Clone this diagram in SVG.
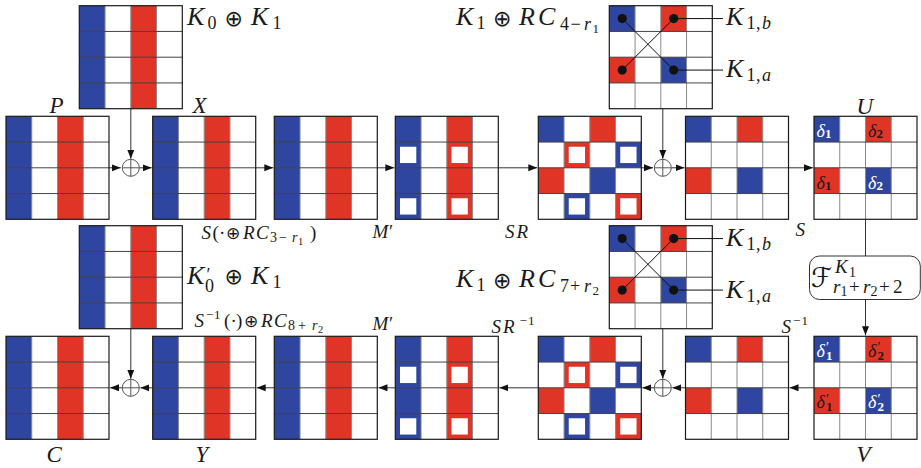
<svg xmlns="http://www.w3.org/2000/svg" xmlns:xlink="http://www.w3.org/1999/xlink" width="921" height="468" viewBox="0 0 921 468">
<style>
.b{fill:#2f46a0}
.rd{fill:#e03426}
.w{fill:#fff}
.gv{stroke:#8a8a8a;stroke-width:1;fill:none}
.gh{stroke:#444;stroke-width:1;fill:none}
.go{stroke:#1a1a1a;stroke-width:1.2;fill:none}
.ca{stroke:#333;stroke-width:1;fill:none;marker-end:url(#ah)}
.c{stroke:#333;stroke-width:1;fill:none}
.k{stroke:#111;stroke-width:1;fill:none}
.dot{fill:#111}
.ox{fill:#fff;stroke:#555;stroke-width:1}
.t{font-family:"Liberation Serif","DejaVu Serif",serif;font-style:italic;fill:#1a1a1a}
.n{font-style:normal}
.op{font-family:"DejaVu Sans",sans-serif;font-style:normal}
.bd{font-style:normal;font-weight:bold}
.dw{fill:#fff}
</style>
<defs>
<marker id="ah" markerUnits="userSpaceOnUse" markerWidth="10" markerHeight="8" refX="9" refY="3.5" orient="auto"><path d="M0,0L9,3.5L0,7z" fill="#111"/></marker>
<g id="grid"><path class="gv" d="M25.75 0V103M51.5 0V103M77.25 0V103"/><path class="gh" d="M0 25.75H103M0 51.5H103M0 77.25H103"/><rect class="go" width="103" height="103"/></g>
<g id="cols"><rect class="b" width="25.75" height="103"/><rect class="rd" x="51.5" width="25.75" height="103"/></g>
<g id="fcells"><rect class="b" width="25.75" height="25.75"/><rect class="rd" x="51.5" width="25.75" height="25.75"/><rect class="rd" y="51.5" width="25.75" height="25.75"/><rect class="b" x="51.5" y="51.5" width="25.75" height="25.75"/></g>
<g id="colm"><use xlink:href="#cols"/><use xlink:href="#grid"/></g>
<g id="mprime"><use xlink:href="#cols"/><rect class="w" x="4.7" y="30.45" width="16.3" height="16.3"/><rect class="w" x="56.2" y="30.45" width="16.3" height="16.3"/><rect class="w" x="4.7" y="81.95" width="16.3" height="16.3"/><rect class="w" x="56.2" y="81.95" width="16.3" height="16.3"/><use xlink:href="#grid"/></g>
<g id="srm"><rect class="b" width="25.75" height="25.75"/><rect class="rd" x="51.5" width="25.75" height="25.75"/><rect class="rd" x="25.75" y="25.75" width="25.75" height="25.75"/><rect class="b" x="77.25" y="25.75" width="25.75" height="25.75"/><rect class="rd" y="51.5" width="25.75" height="25.75"/><rect class="b" x="51.5" y="51.5" width="25.75" height="25.75"/><rect class="b" x="25.75" y="77.25" width="25.75" height="25.75"/><rect class="rd" x="77.25" y="77.25" width="25.75" height="25.75"/><rect class="w" x="30.45" y="30.45" width="16.3" height="16.3"/><rect class="w" x="81.95" y="30.45" width="16.3" height="16.3"/><rect class="w" x="30.45" y="81.95" width="16.3" height="16.3"/><rect class="w" x="81.95" y="81.95" width="16.3" height="16.3"/><use xlink:href="#grid"/></g>
<g id="fm"><use xlink:href="#fcells"/><use xlink:href="#grid"/></g>
<g id="keym"><use xlink:href="#fcells"/><use xlink:href="#grid"/><path class="k" d="M12.875 12.875L64.375 64.375M64.375 12.875L12.875 64.375M64.375 12.875H113.7M64.375 64.375H113.7"/><circle class="dot" cx="12.875" cy="12.875" r="4.6"/><circle class="dot" cx="64.375" cy="12.875" r="4.6"/><circle class="dot" cx="12.875" cy="64.375" r="4.6"/><circle class="dot" cx="64.375" cy="64.375" r="4.6"/></g>
<g id="oplus"><circle class="ox" r="8.5"/><path class="ox" d="M-8.5 0H8.5M0 -8.5V8.5"/></g>
</defs>
<rect width="921" height="468" fill="#fff"/>

<g id="connectors">
<path class="ca" d="M109 167.8H120.8"/>
<path class="ca" d="M139.3 167.8H151.7"/>
<path class="ca" d="M255.7 167.8H273.3"/>
<path class="ca" d="M377.3 167.8H394.3"/>
<path class="ca" d="M498.3 167.8H537.3"/>
<path class="ca" d="M641.3 167.8H653"/>
<path class="ca" d="M671.3 167.8H684.5"/>
<path class="ca" d="M788.5 167.8H813"/>
<path class="ca" d="M130.8 108.7V158.8"/>
<path class="ca" d="M662.8 108.7V158.8"/>
<path class="c" d="M865.5 219.3V256"/>
<path class="ca" d="M865.5 299.5V335.3"/>
<path class="ca" d="M814 387.8H789.5"/>
<path class="ca" d="M685.5 387.8H672.3"/>
<path class="ca" d="M654.3 387.8H642.3"/>
<path class="ca" d="M538.3 387.8H499.3"/>
<path class="ca" d="M395.3 387.8H378.5"/>
<path class="ca" d="M274.3 387.8H256.7"/>
<path class="ca" d="M152.7 387.8H140.3"/>
<path class="ca" d="M122.3 387.8H110"/>
<path class="ca" d="M130.8 328.7V378.8"/>
<path class="ca" d="M662.8 328.7V378.8"/>
</g>

<g id="P"><use xlink:href="#colm" x="6" y="116.3"/></g>
<g id="X"><use xlink:href="#colm" x="152.7" y="116.3"/></g>
<g id="S-out"><use xlink:href="#colm" x="274.3" y="116.3"/></g>
<g id="Mprime-top"><use xlink:href="#mprime" x="395.3" y="116.3"/></g>
<g id="SR-top"><use xlink:href="#srm" x="538.3" y="116.3"/></g>
<g id="AK-top"><use xlink:href="#fm" x="685.5" y="116.3"/></g>
<g id="U">
<use xlink:href="#fm" x="814" y="116.3"/>
<text class="t dw" font-size="18" x="816.5" y="137.3">δ<tspan class="bd" font-size="13" dy="1">1</tspan></text>
<text class="t" font-size="18" x="868" y="137.3">δ<tspan class="bd" font-size="13" dy="1">2</tspan></text>
<text class="t" font-size="18" x="816.5" y="188.8">δ<tspan class="bd" font-size="13" dy="1">1</tspan></text>
<text class="t dw" font-size="18" x="868" y="188.8">δ<tspan class="bd" font-size="13" dy="1">2</tspan></text>
</g>
<g id="K01"><use xlink:href="#colm" x="79.3" y="5.7"/></g>
<g id="K1RC-top"><use xlink:href="#keym" x="609.3" y="5.7"/></g>

<g id="C"><use xlink:href="#colm" x="6" y="336.3"/></g>
<g id="Y"><use xlink:href="#colm" x="152.7" y="336.3"/></g>
<g id="Sinv-out"><use xlink:href="#colm" x="274.3" y="336.3"/></g>
<g id="Mprime-bot"><use xlink:href="#mprime" x="395.3" y="336.3"/></g>
<g id="SR-bot"><use xlink:href="#srm" x="538.3" y="336.3"/></g>
<g id="AK-bot"><use xlink:href="#fm" x="685.5" y="336.3"/></g>
<g id="V">
<use xlink:href="#fm" x="814" y="336.3"/>
<text class="t dw" font-size="18"><tspan x="816.5" y="356.5">δ</tspan><tspan class="n" font-size="14" x="826" y="352">′</tspan><tspan class="bd" font-size="13" x="826" y="359.5">1</tspan></text>
<text class="t" font-size="18"><tspan x="868" y="356.5">δ</tspan><tspan class="n" font-size="14" x="877.5" y="352">′</tspan><tspan class="bd" font-size="13" x="877.5" y="359.5">2</tspan></text>
<text class="t" font-size="18"><tspan x="816.5" y="408">δ</tspan><tspan class="n" font-size="14" x="826" y="403.5">′</tspan><tspan class="bd" font-size="13" x="826" y="411">1</tspan></text>
<text class="t dw" font-size="18"><tspan x="868" y="408">δ</tspan><tspan class="n" font-size="14" x="877.5" y="403.5">′</tspan><tspan class="bd" font-size="13" x="877.5" y="411">2</tspan></text>
</g>
<g id="K0p1"><use xlink:href="#colm" x="79.3" y="225.7"/></g>
<g id="K1RC-bot"><use xlink:href="#keym" x="609.3" y="225.7"/></g>

<g id="xor-1"><use xlink:href="#oplus" x="130.8" y="167.8"/></g>
<g id="xor-2"><use xlink:href="#oplus" x="662.8" y="167.8"/></g>
<g id="xor-3"><use xlink:href="#oplus" x="130.8" y="387.8"/></g>
<g id="xor-4"><use xlink:href="#oplus" x="662.8" y="387.8"/></g>

<g id="Fbox">
<rect x="809.5" y="256" width="110.8" height="43.5" rx="10" fill="#fff" stroke="#333" stroke-width="1"/>
<text class="t"><tspan class="op" font-size="27" x="811" y="287">ℱ</tspan><tspan font-size="19" x="835" y="273">K</tspan><tspan class="n" font-size="14" x="849" y="276.5">1</tspan><tspan font-size="19" x="833" y="292.5">r</tspan><tspan class="n" font-size="14" x="840.5" y="295.5">1</tspan><tspan class="n" font-size="19" x="849" y="292.5">+</tspan><tspan font-size="19" x="863" y="292.5">r</tspan><tspan class="n" font-size="14" x="870.5" y="295.5">2</tspan><tspan class="n" font-size="19" x="879" y="292.5">+</tspan><tspan class="n" font-size="19" x="893" y="292.5">2</tspan></text>
</g>

<g id="labels">
<text class="t" font-size="23" x="49.5" y="113">P</text>
<text class="t" font-size="23" x="192.5" y="113">X</text>
<text class="t" font-size="23" x="856.5" y="113.5">U</text>
<text class="t" font-size="23" x="46.5" y="461.5">C</text>
<text class="t" font-size="23" x="195.5" y="461.5">Y</text>
<text class="t" font-size="23" x="856.5" y="461.5">V</text>

<text class="t" font-size="26"><tspan x="187" y="25">K</tspan><tspan class="n" font-size="18" x="207.5" y="29">0</tspan><tspan class="op" font-size="22" x="224.5" y="25.5">⊕</tspan><tspan x="251" y="25">K</tspan><tspan class="n" font-size="18" x="272.5" y="29">1</tspan></text>

<text class="t" font-size="26"><tspan x="456" y="25">K</tspan><tspan class="n" font-size="18" x="476.5" y="29">1</tspan><tspan class="op" font-size="22" x="493" y="25.5">⊕</tspan><tspan x="519" y="25">R</tspan><tspan x="538" y="25">C</tspan><tspan class="n" font-size="18" x="560" y="29.5">4</tspan><tspan class="n" font-size="18" x="570.5" y="29.5">−</tspan><tspan font-size="18" x="584" y="29.5">r</tspan><tspan class="n" font-size="13" x="592.5" y="32.5">1</tspan></text>

<text class="t" font-size="26"><tspan x="726" y="25">K</tspan><tspan class="n" font-size="18" x="746.5" y="29">1</tspan><tspan class="n" font-size="18" x="756" y="29">,</tspan><tspan font-size="18" x="762" y="29">b</tspan></text>
<text class="t" font-size="26"><tspan x="726" y="76.5">K</tspan><tspan class="n" font-size="18" x="746.5" y="80.5">1</tspan><tspan class="n" font-size="18" x="756" y="80.5">,</tspan><tspan font-size="18" x="762" y="80.5">a</tspan></text>

<text class="t" font-size="19"><tspan x="201.5" y="238.5">S</tspan><tspan class="n" x="212.5" y="238.5">(</tspan><tspan class="n" x="219" y="238.5">·</tspan><tspan class="op" font-size="17" x="226" y="239">⊕</tspan><tspan x="243" y="238.5">R</tspan><tspan x="256" y="238.5">C</tspan><tspan class="n" font-size="14" x="270" y="242">3</tspan><tspan class="n" font-size="14" x="279" y="242">−</tspan><tspan font-size="14" x="292" y="242">r</tspan><tspan class="n" font-size="10.5" x="298" y="244.5">1</tspan><tspan class="n" x="310" y="238.5">)</tspan></text>
<text class="t" font-size="19"><tspan x="372.5" y="238">M</tspan><tspan class="n" x="389" y="238">′</tspan></text>
<text class="t" font-size="19"><tspan x="505" y="237.5">S</tspan><tspan x="516.5" y="237.5">R</tspan></text>
<text class="t" font-size="19" x="795.5" y="236">S</text>

<text class="t" font-size="26"><tspan x="187" y="283.5">K</tspan><tspan class="n" font-size="18" x="206.5" y="281">′</tspan><tspan class="n" font-size="18" x="205" y="291.5">0</tspan><tspan class="op" font-size="22" x="224.5" y="284">⊕</tspan><tspan x="251" y="283.5">K</tspan><tspan class="n" font-size="18" x="272.5" y="288">1</tspan></text>

<text class="t" font-size="26"><tspan x="456" y="287">K</tspan><tspan class="n" font-size="18" x="476.5" y="291">1</tspan><tspan class="op" font-size="22" x="493" y="287.5">⊕</tspan><tspan x="519" y="287">R</tspan><tspan x="538" y="287">C</tspan><tspan class="n" font-size="18" x="560" y="291.5">7</tspan><tspan class="n" font-size="18" x="570" y="291.5">+</tspan><tspan font-size="18" x="584" y="291.5">r</tspan><tspan class="n" font-size="13" x="592.5" y="294.5">2</tspan></text>

<text class="t" font-size="26"><tspan x="726" y="246">K</tspan><tspan class="n" font-size="18" x="746.5" y="250">1</tspan><tspan class="n" font-size="18" x="756" y="250">,</tspan><tspan font-size="18" x="762" y="250">b</tspan></text>
<text class="t" font-size="26"><tspan x="726" y="298">K</tspan><tspan class="n" font-size="18" x="746.5" y="302">1</tspan><tspan class="n" font-size="18" x="756" y="302">,</tspan><tspan font-size="18" x="762" y="302">a</tspan></text>

<text class="t" font-size="19"><tspan x="194.5" y="326.5">S</tspan><tspan class="n" font-size="13" x="206" y="319">−</tspan><tspan class="n" font-size="13" x="214" y="319">1</tspan><tspan class="n" x="224" y="326.5">(</tspan><tspan class="n" x="230.5" y="326.5">·</tspan><tspan class="n" x="236" y="326.5">)</tspan><tspan class="op" font-size="17" x="244" y="327">⊕</tspan><tspan x="261" y="326.5">R</tspan><tspan x="274" y="326.5">C</tspan><tspan class="n" font-size="14" x="288" y="330">8</tspan><tspan class="n" font-size="14" x="298" y="330">+</tspan><tspan font-size="14" x="312" y="330">r</tspan><tspan class="n" font-size="10.5" x="318" y="332.5">2</tspan></text>
<text class="t" font-size="19"><tspan x="372.5" y="330">M</tspan><tspan class="n" x="389" y="330">′</tspan></text>
<text class="t" font-size="19"><tspan x="491.5" y="333">S</tspan><tspan x="503" y="333">R</tspan><tspan class="n" font-size="13" x="519.5" y="325">−</tspan><tspan class="n" font-size="13" x="528" y="325">1</tspan></text>
<text class="t" font-size="19"><tspan x="781.5" y="333">S</tspan><tspan class="n" font-size="13" x="793" y="325">−</tspan><tspan class="n" font-size="13" x="801.5" y="325">1</tspan></text>
</g>
</svg>
